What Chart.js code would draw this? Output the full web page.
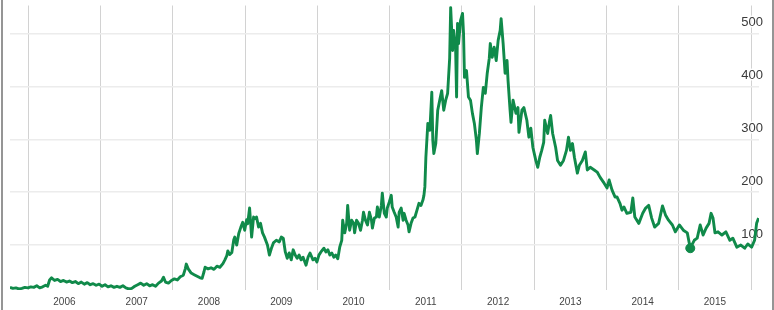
<!DOCTYPE html>
<html>
<head>
<meta charset="utf-8">
<script src="https://cdn.jsdelivr.net/npm/chart.js@4"></script>
<style>
  html, body { margin: 0; padding: 0; background: #fff; }
  #wrap { position: relative; width: 774px; height: 310px; }
  .edge { position: absolute; top: 0; width: 2px; height: 310px; background: #959595; }
</style>
</head>
<body>
<div id="wrap">
  <canvas id="chart"></canvas>
  <div class="edge" style="left:1px"></div>
  <div class="edge" style="left:772px"></div>
</div>
<script>
// decimal year of each sample
const dates = [
  2005.747, 2005.788, 2005.829, 2005.870, 2005.911, 2005.953, 2005.994, 2006.035, 2006.076, 2006.117,
  2006.158, 2006.199, 2006.240, 2006.268, 2006.295, 2006.322, 2006.364, 2006.405, 2006.446, 2006.487,
  2006.528, 2006.569, 2006.610, 2006.651, 2006.692, 2006.733, 2006.775, 2006.816, 2006.857, 2006.898,
  2006.939, 2006.980, 2007.021, 2007.062, 2007.103, 2007.144, 2007.186, 2007.227, 2007.268, 2007.309,
  2007.350, 2007.391, 2007.432, 2007.473, 2007.514, 2007.555, 2007.597, 2007.638, 2007.679, 2007.720,
  2007.761, 2007.802, 2007.843, 2007.871, 2007.898, 2007.939, 2007.980, 2008.021, 2008.062, 2008.103,
  2008.145, 2008.172, 2008.186, 2008.213, 2008.254, 2008.295, 2008.336, 2008.377, 2008.405, 2008.432,
  2008.446, 2008.487, 2008.528, 2008.569, 2008.610, 2008.651, 2008.693, 2008.720, 2008.747, 2008.761,
  2008.788, 2008.816, 2008.843, 2008.857, 2008.884, 2008.912, 2008.939, 2008.967, 2008.994, 2009.021,
  2009.035, 2009.062, 2009.090, 2009.117, 2009.145, 2009.158, 2009.186, 2009.213, 2009.241, 2009.268,
  2009.309, 2009.336, 2009.364, 2009.391, 2009.432, 2009.473, 2009.501, 2009.528, 2009.556, 2009.583,
  2009.610, 2009.638, 2009.665, 2009.693, 2009.720, 2009.747, 2009.775, 2009.802, 2009.843, 2009.871,
  2009.898, 2009.939, 2009.967, 2009.994, 2010.021, 2010.049, 2010.090, 2010.117, 2010.145, 2010.172,
  2010.200, 2010.227, 2010.254, 2010.282, 2010.309, 2010.337, 2010.350, 2010.378, 2010.405, 2010.419,
  2010.446, 2010.474, 2010.501, 2010.515, 2010.542, 2010.569, 2010.597, 2010.624, 2010.638, 2010.665,
  2010.693, 2010.720, 2010.748, 2010.761, 2010.789, 2010.816, 2010.830, 2010.857, 2010.885, 2010.898,
  2010.926, 2010.953, 2010.967, 2010.994, 2011.022, 2011.035, 2011.063, 2011.090, 2011.117, 2011.131,
  2011.159, 2011.186, 2011.200, 2011.227, 2011.254, 2011.268, 2011.296, 2011.323, 2011.350, 2011.378,
  2011.405, 2011.433, 2011.460, 2011.474, 2011.487, 2011.501, 2011.528, 2011.556, 2011.583, 2011.597,
  2011.611, 2011.638, 2011.665, 2011.693, 2011.720, 2011.748, 2011.775, 2011.802, 2011.830, 2011.844,
  2011.871, 2011.885, 2011.912, 2011.926, 2011.939, 2011.953, 2011.981, 2012.008, 2012.022, 2012.035,
  2012.063, 2012.090, 2012.118, 2012.145, 2012.172, 2012.200, 2012.213, 2012.241, 2012.268, 2012.296,
  2012.323, 2012.350, 2012.378, 2012.392, 2012.419, 2012.446, 2012.474, 2012.501, 2012.529, 2012.542,
  2012.570, 2012.597, 2012.624, 2012.638, 2012.666, 2012.679, 2012.707, 2012.748, 2012.775, 2012.789,
  2012.830, 2012.857, 2012.898, 2012.926, 2012.953, 2012.981, 2013.022, 2013.049, 2013.077, 2013.104,
  2013.131, 2013.145, 2013.186, 2013.214, 2013.227, 2013.255, 2013.296, 2013.323, 2013.364, 2013.405,
  2013.446, 2013.474, 2013.501, 2013.529, 2013.556, 2013.597, 2013.625, 2013.666, 2013.707, 2013.734,
  2013.775, 2013.830, 2013.871, 2013.912, 2013.967, 2014.008, 2014.036, 2014.077, 2014.118, 2014.145,
  2014.186, 2014.214, 2014.241, 2014.282, 2014.337, 2014.364, 2014.392, 2014.447, 2014.501, 2014.542,
  2014.584, 2014.625, 2014.666, 2014.721, 2014.775, 2014.816, 2014.858, 2014.912, 2014.953, 2015.008,
  2015.063, 2015.118, 2015.159, 2015.214, 2015.255, 2015.296, 2015.337, 2015.378, 2015.419, 2015.447,
  2015.474, 2015.501, 2015.543, 2015.597, 2015.652, 2015.707, 2015.748, 2015.803, 2015.858, 2015.912,
  2015.954, 2016.008, 2016.049, 2016.077, 2016.104
];

const prices = [
  20, 18, 19, 17, 18, 20, 19, 21, 20, 23,
  19, 21, 24, 22, 34, 38, 33, 35, 31, 33,
  30, 32, 29, 31, 27, 30, 26, 29, 25, 27,
  24, 26, 22, 25, 21, 23, 20, 22, 20, 23,
  19, 17, 18, 22, 25, 28, 24, 27, 23, 25,
  22, 28, 32, 39, 30, 28, 33, 36, 34, 40,
  43, 55, 64, 55, 47, 44, 41, 38, 37, 50,
  58, 55, 57, 54, 60, 58, 65, 72, 80, 89,
  82, 86, 110, 115, 100, 122, 133, 143, 128, 148,
  140, 170, 115, 153, 150, 153, 134, 141, 123, 115,
  100, 81, 94, 104, 109, 106, 115, 113, 87, 75,
  85, 72, 91, 81, 75, 81, 72, 77, 62, 77,
  85, 72, 75, 68, 81, 87, 94, 87, 91, 81,
  85, 77, 81, 74, 96, 109, 147, 123, 141, 175,
  128, 147, 141, 123, 147, 141, 128, 147, 162, 147,
  138, 162, 147, 132, 151, 153, 172, 153, 175, 198,
  160, 153, 170, 181, 194, 172, 162, 153, 134, 162,
  170, 147, 160, 147, 138, 125, 141, 151, 153, 166,
  179, 175, 185, 194, 210, 266, 330, 317, 389, 298,
  273, 292, 355, 374, 392, 355, 374, 387, 453, 549,
  468, 506, 474, 380, 519, 481, 525, 538, 500, 417,
  430, 380, 374, 349, 330, 298, 273, 311, 360, 398,
  387, 425, 453, 481, 455, 474, 449, 487, 506, 528,
  481, 425, 449, 411, 355, 332, 374, 349, 360, 313,
  355, 360, 336, 304, 321, 285, 260, 247, 266, 279,
  294, 336, 311, 336, 345, 311, 285, 260, 251, 260,
  279, 304, 279, 292, 266, 236, 251, 260, 276, 242,
  247, 242, 238, 228, 217, 208, 223, 204, 191, 191,
  179, 166, 172, 160, 162, 189, 153, 141, 160, 170,
  175, 151, 134, 141, 174, 157, 147, 138, 125, 138,
  128, 123, 94, 109, 113, 138, 119, 132, 141, 160,
  151, 123, 125, 119, 125, 109, 113, 96, 100, 94,
  102, 96, 109, 141, 151
];

// highlighted point (hover marker)
const markerDate = 2015.159;
const markerPrice = 94;

const yearLabels = [2006, 2007, 2008, 2009, 2010, 2011, 2012, 2013, 2014, 2015];
const yTicks = [100, 200, 300, 400, 500];

const green = '#108a4a';
const fontFamily = 'Arial, "Liberation Sans", sans-serif';

const ctx = document.getElementById('chart').getContext('2d');
new Chart(ctx, {
    type: 'line',
    data: {
        datasets: [{
            data: dates.map((d, i) => ({ x: d, y: prices[i] })),
            borderColor: green,
            borderWidth: 2.9,
            borderJoinStyle: 'round',
            pointRadius: 0,
            tension: 0,
            fill: false
        }, {
            data: [{ x: markerDate, y: markerPrice }],
            borderColor: green,
            backgroundColor: green,
            pointRadius: 4.5,
            showLine: false
        }]
    },
    options: {
        responsive: true,
        maintainAspectRatio: false,
        animation: false,
        layout: { padding: { left: 10, right: 7, top: 4, bottom: 0 } },
        plugins: {
            legend: { display: false },
            tooltip: { enabled: false }
        },
        scales: {
            x: {
                type: 'linear',
                min: 2005.747,
                max: 2016.11,
                afterBuildTicks: function(scale) {
                    // year boundaries carry the grid, mid-years carry the labels
                    const ticks = [];
                    yearLabels.forEach(y => {
                        ticks.push({ value: y });
                        ticks.push({ value: y + 0.5 });
                    });
                    ticks.push({ value: yearLabels[yearLabels.length - 1] + 1 });
                    scale.ticks = ticks;
                },
                afterFit: function(scale) {
                    scale.paddingLeft = 0;
                    scale.paddingRight = 0;
                    scale.paddingBottom = 0;
                    scale.height = 20;
                },
                border: { display: false },
                grid: {
                    drawTicks: false,
                    color: function(c) {
                        return c.tick && c.tick.value % 1 === 0 ? '#d2d2d2' : 'rgba(0,0,0,0)';
                    },
                    lineWidth: 1
                },
                ticks: {
                    autoSkip: false,
                    maxRotation: 0,
                    padding: 6,
                    color: '#444',
                    font: { family: fontFamily, size: 10 },
                    callback: function(value) {
                        return value % 1 === 0 ? '' : String(Math.floor(value));
                    }
                }
            },
            y: {
                position: 'right',
                min: 15,
                max: 553,
                afterBuildTicks: function(scale) {
                    scale.ticks = yTicks.map(v => ({ value: v }));
                },
                afterFit: function(scale) {
                    scale.paddingTop = 0;
                    scale.paddingBottom = 0;
                },
                border: { display: false },
                grid: {
                    drawTicks: false,
                    color: '#ececec',
                    lineWidth: 1.5
                },
                ticks: {
                    mirror: true,
                    padding: 4,
                    labelOffset: -11,
                    color: '#3a3a3a',
                    textStrokeColor: '#ffffff',
                    textStrokeWidth: 3,
                    font: { family: fontFamily, size: 13 }
                }
            }
        }
    }
});
</script>
</body>
</html>
